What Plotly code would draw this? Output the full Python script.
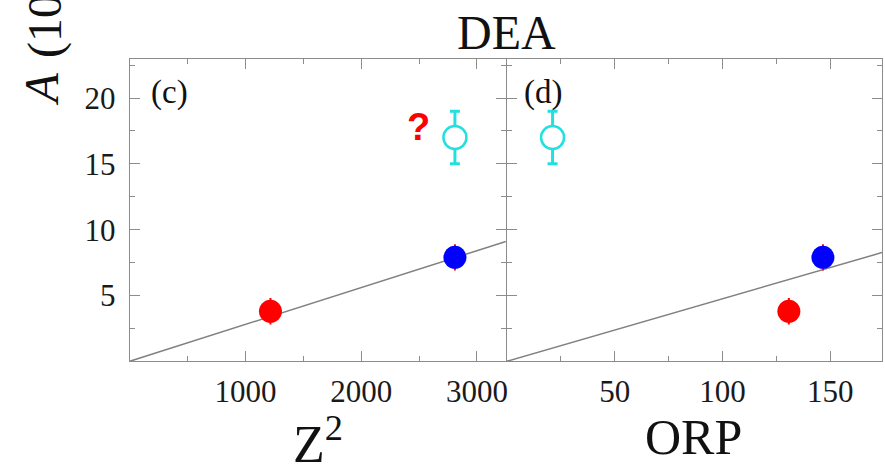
import plotly.graph_objects as go

W, H = 885, 472

# ---- data ----
z2_vals = [1216, 2810]
orp_vals = [130.8, 146.6]
a_vals = [3.8, 7.9]
a_err = [1.0, 1.0]
pt_colors = ["#ff0000", "#0000ff"]

open_z2 = [2810]
open_orp = [21.2]
open_a = [17.0]
open_err = [2.0]

fit_c_x = [0, 3250]
fit_c_y = [0, 9.1]
fit_d_x = [0, 174]
fit_d_y = [0, 8.26]

xc_ticks = [0, 1000, 2000, 3000]
xc_text = ["", "1000", "2000", "3000"]
xc_minor = [500, 1500, 2500]
xd_ticks = [0, 50, 100, 150]
xd_text = ["", "50", "100", "150"]
xd_minor = [25, 75, 125, 175]
y_ticks = [0, 5, 10, 15, 20]
y_text = ["", "5", "10", "15", "20"]
y_minor = [2.5, 7.5, 12.5, 17.5, 22.5]

AX = "#8c8c8c"
SERIF = "Liberation Serif"
CYAN = "#22e0e0"
LW = 1


def px(x):
    return x / W


def py(y):
    return 1 - y / H


fig = go.Figure()

# panel (c)
fig.add_trace(go.Scatter(x=fit_c_x, y=fit_c_y, mode="lines",
                         line=dict(color="#808080", width=1.5),
                         xaxis="x", yaxis="y", showlegend=False, hoverinfo="skip"))
fig.add_trace(go.Scatter(x=z2_vals, y=a_vals, mode="markers",
                         marker=dict(size=23, color=pt_colors, line=dict(width=0)),
                         error_y=dict(type="data", array=a_err, width=0, thickness=2, color="#ff0000"),
                         xaxis="x", yaxis="y", showlegend=False))
fig.add_trace(go.Scatter(x=open_z2, y=open_a, mode="markers",
                         marker=dict(size=23, color="white", line=dict(color=CYAN, width=2.5)),
                         error_y=dict(type="data", array=open_err, width=5, thickness=3, color=CYAN),
                         xaxis="x", yaxis="y", showlegend=False))

# panel (d)
fig.add_trace(go.Scatter(x=fit_d_x, y=fit_d_y, mode="lines",
                         line=dict(color="#808080", width=1.5),
                         xaxis="x2", yaxis="y2", showlegend=False, hoverinfo="skip"))
fig.add_trace(go.Scatter(x=orp_vals, y=a_vals, mode="markers",
                         marker=dict(size=23, color=pt_colors, line=dict(width=0)),
                         error_y=dict(type="data", array=a_err, width=0, thickness=2, color="#ff0000"),
                         xaxis="x2", yaxis="y2", showlegend=False))
fig.add_trace(go.Scatter(x=open_orp, y=open_a, mode="markers",
                         marker=dict(size=23, color="white", line=dict(color=CYAN, width=2.5)),
                         error_y=dict(type="data", array=open_err, width=5, thickness=3, color=CYAN),
                         xaxis="x2", yaxis="y2", showlegend=False))

common_axis = dict(showline=True, linecolor=AX, linewidth=LW, mirror="ticks",
                   ticks="inside", ticklen=10, tickwidth=1.3, tickcolor=AX,
                   showgrid=False, zeroline=False,
                   tickfont=dict(family=SERIF, size=31, color="#1a1a1a"))
minor_common = dict(tickmode="array", ticks="inside", ticklen=5, tickwidth=1.3, tickcolor=AX)

XC0, XC1 = 130, 507
XD0, XD1 = 508, 884
Y0, Y1 = 361.3, 58.5

fig.update_layout(
    width=W, height=H,
    margin=dict(l=0, r=0, t=0, b=0),
    paper_bgcolor="white", plot_bgcolor="white",
    xaxis=dict(domain=[px(XC0), px(XC1)], range=[0, 3250], anchor="y",
               tickmode="array", tickvals=xc_ticks, ticktext=xc_text,
               minor=dict(tickvals=xc_minor, **minor_common),
               ticklabelstandoff=2, **common_axis),
    yaxis=dict(domain=[py(Y0), py(Y1)], range=[0, 23], anchor="x",
               tickmode="array", tickvals=y_ticks, ticktext=y_text,
               minor=dict(tickvals=y_minor, **minor_common),
               ticklabelstandoff=7, **common_axis),
    xaxis2=dict(domain=[px(XD0), px(XD1)], range=[0, 174], anchor="y2",
                tickmode="array", tickvals=xd_ticks, ticktext=xd_text,
                minor=dict(tickvals=xd_minor, **minor_common),
                ticklabelstandoff=2, **common_axis),
    yaxis2=dict(domain=[py(Y0), py(Y1)], range=[0, 23], anchor="x2",
                tickmode="array", tickvals=y_ticks, showticklabels=False,
                minor=dict(tickvals=y_minor, **minor_common),
                **common_axis),
)

ann = [
    dict(text="DEA", x=px(507.5), y=py(32), font=dict(family=SERIF, size=48, color="#111")),
    dict(text="Z<sup>2</sup>", x=px(318.5), y=py(440), font=dict(family=SERIF, size=52, color="#111")),
    dict(text="ORP", x=px(695), y=py(437), font=dict(family=SERIF, size=50, color="#111")),
    dict(text="(c)", x=px(169.5), y=py(92), font=dict(family=SERIF, size=33, color="#111")),
    dict(text="(d)", x=px(544), y=py(92), font=dict(family=SERIF, size=33, color="#111")),
    dict(text="<b>?</b>", x=px(419), y=py(127), font=dict(family="Liberation Sans", size=38, color="#ff0000")),
]
for a in ann:
    fig.add_annotation(xref="paper", yref="paper", showarrow=False,
                       xanchor="center", yanchor="middle", **a)

# rotated y-axis title (clipped at the top edge, as in the original)
fig.add_annotation(xref="paper", yref="paper", showarrow=False,
                   text="A", textangle=-90,
                   x=px(42), y=py(107), xanchor="center", yanchor="bottom",
                   font=dict(family=SERIF, size=48, color="#111", style="italic"))
fig.add_annotation(xref="paper", yref="paper", showarrow=False,
                   text="(10<sup>-3</sup>)", textangle=-90,
                   x=px(42), y=py(60), xanchor="center", yanchor="bottom",
                   font=dict(family=SERIF, size=48, color="#111"))

fig.write_html("out.html")
